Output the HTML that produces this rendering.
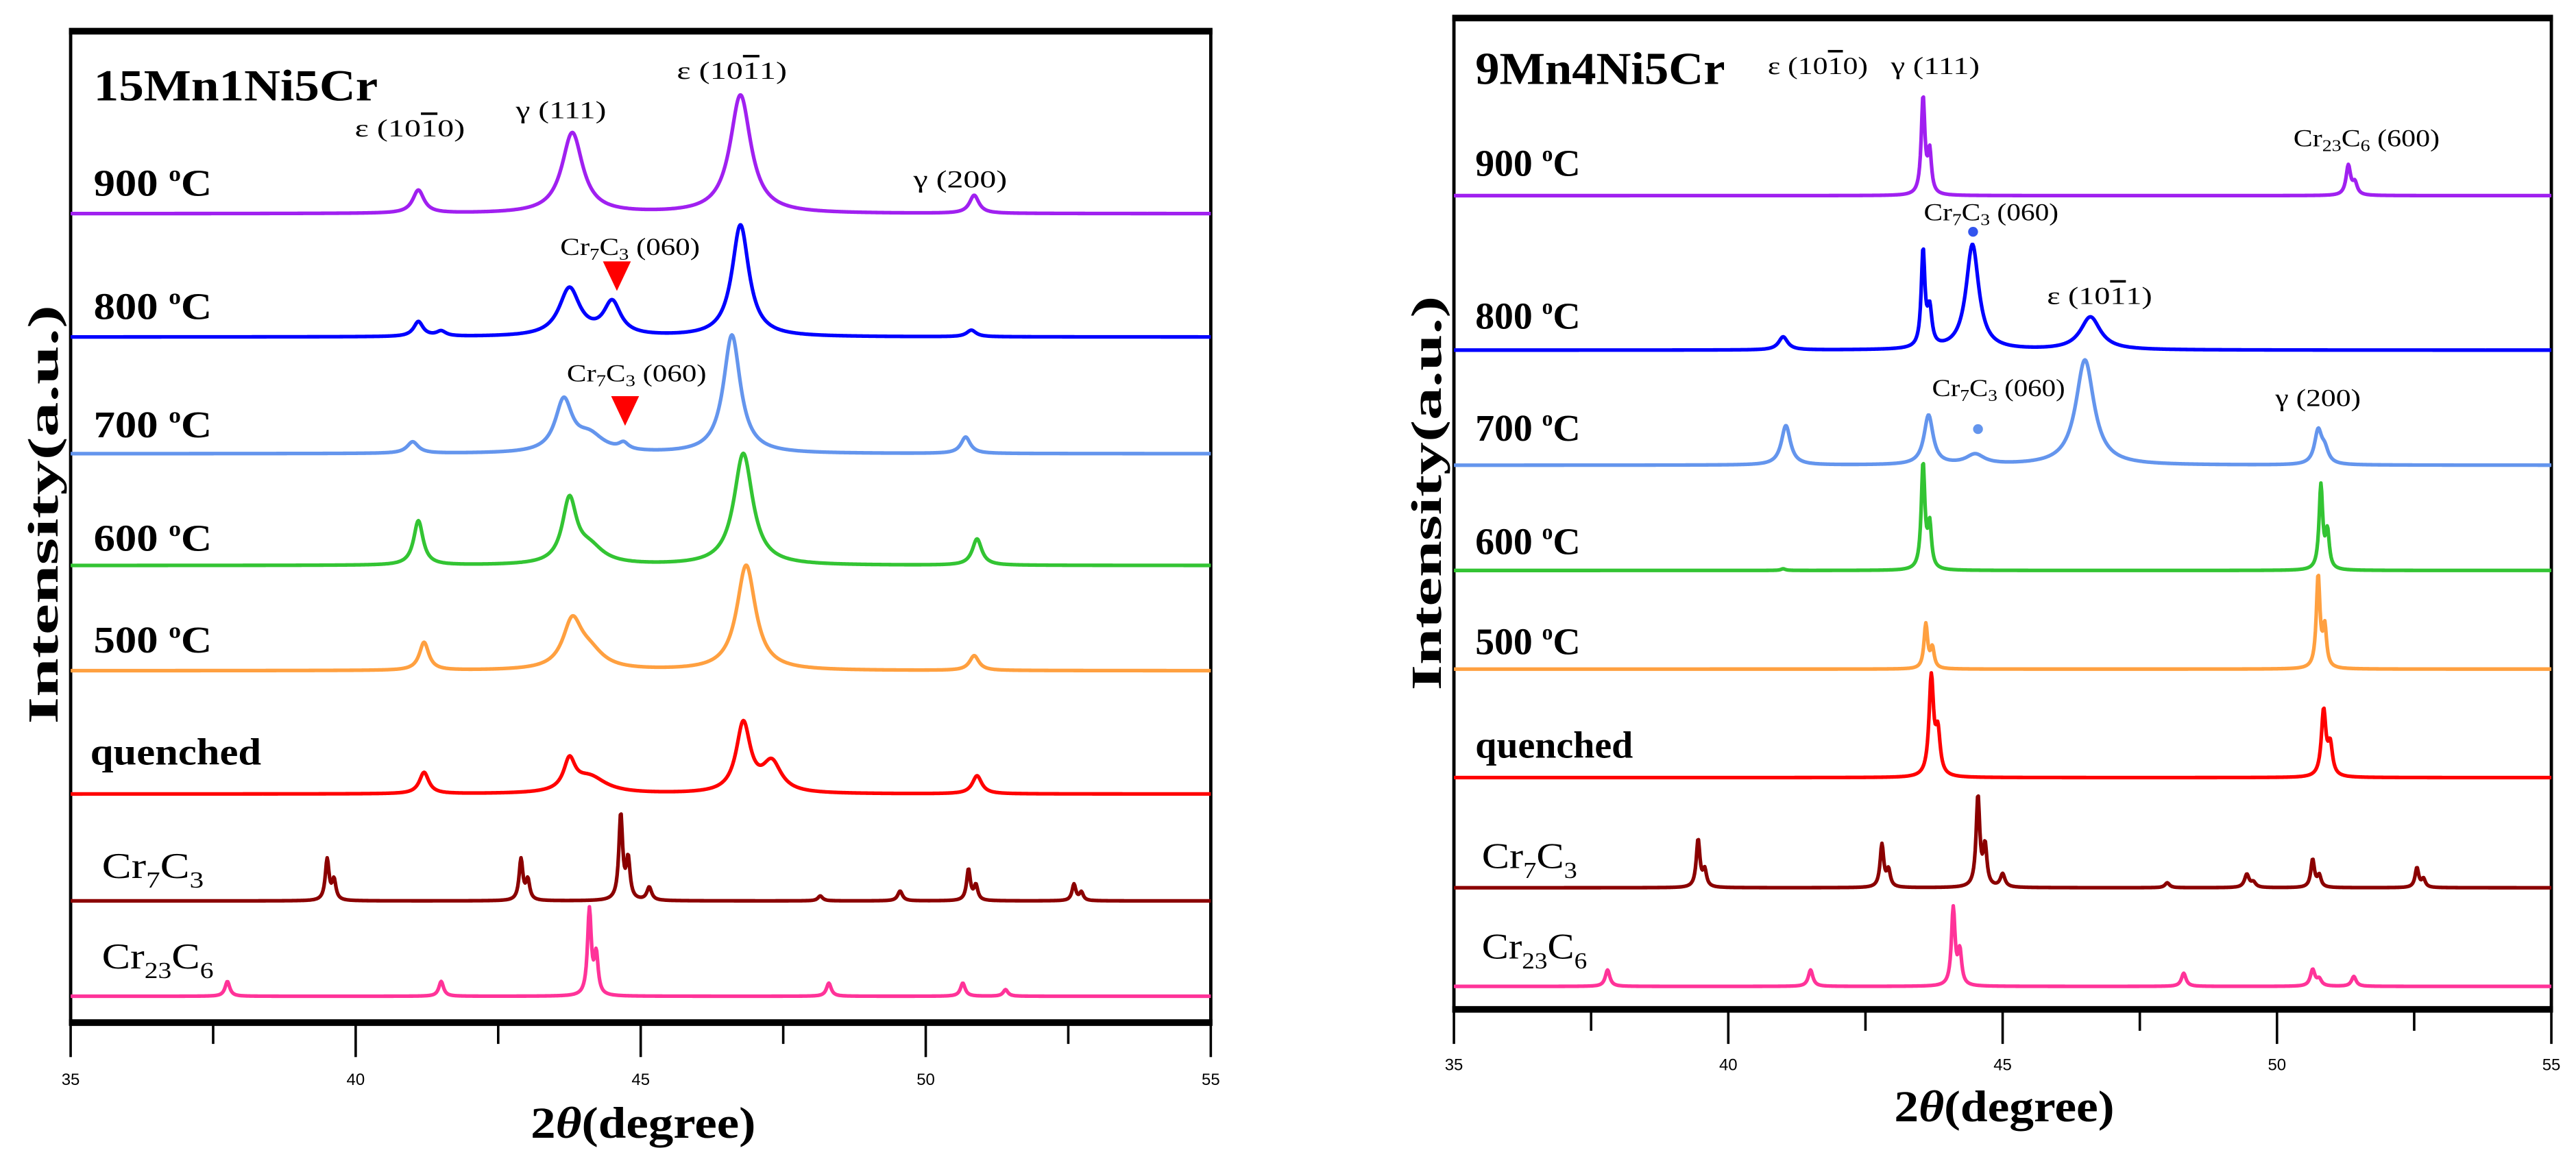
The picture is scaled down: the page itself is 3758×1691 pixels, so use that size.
<!DOCTYPE html>
<html><head><meta charset="utf-8"><style>
html,body{margin:0;padding:0;background:#fff;}
svg{display:block;}
text{font-family:"Liberation Serif",serif;fill:#000;}
.lbl{font-weight:bold;font-size:23px;}
.pk{font-size:15px;}
.tk{font-family:"Liberation Sans",sans-serif;font-size:10px;}
</style></head><body>
<svg id="fig" width="3758" height="1691" viewBox="0 0 1568 705" preserveAspectRatio="none" xmlns="http://www.w3.org/2000/svg">
<g id="left"></g>
<g id="right"></g>
</svg>
<script>
// ---- data: peak positions (2θ), heights (a.u.), half widths (deg) ----
const seriesNames = ["900 °C","800 °C","700 °C","600 °C","500 °C","quenched","Cr7C3","Cr23C6"];
const seriesColors = ["#a020f0","#0000ff","#6495ed","#33c433","#ffa040","#ff0000","#8b0000","#ff3399"];
const xTicks = [35,40,45,50,55];
const xMinor = [37.5,42.5,47.5,52.5];

// left panel (15Mn1Ni5Cr)
const L900pos=[41.1,43.8,46.75,50.85], L900h=[14,49,72,11], L900w=[0.12,0.22,0.22,0.1];
const L800pos=[41.1,41.5,43.75,44.5,46.75,50.8], L800h=[9,3,29,20,68,4], L800w=[0.1,0.1,0.22,0.18,0.18,0.1];
const L700pos=[41.0,43.65,44.1,44.7,46.6,50.7], L700h=[7,31,10,4,72,10], L700w=[0.12,0.18,0.3,0.1,0.18,0.1];
const L600pos=[41.1,43.75,44.1,46.8,50.9], L600h=[27,38,10,68,16], L600w=[0.1,0.15,0.3,0.2,0.1];
const L500pos=[41.2,43.8,44.1,46.85,50.85], L500h=[17,28,10,64,9], L500w=[0.1,0.2,0.3,0.2,0.1];
const LQpos=[41.2,43.75,44.1,46.8,47.3,50.9], LQh=[13,18,10,42,18,11], LQw=[0.1,0.12,0.35,0.15,0.2,0.1];
const LC7pos=[39.5,39.62,42.9,43.02,44.65,44.78,45.15,48.15,49.55,50.75,50.88,52.6,52.73], LC7h=[25,12,25,12,52,24,8,3,6,19,9,10,5], LC7w=[0.04,0.04,0.04,0.04,0.04,0.04,0.05,0.05,0.05,0.04,0.04,0.04,0.04];
const LC23pos=[37.75,41.5,44.1,44.22,48.3,50.65,51.4], LC23h=[9,9,52,24,8,8,4], LC23w=[0.05,0.05,0.04,0.04,0.05,0.05,0.05];

// right panel (9Mn4Ni5Cr)
const R900pos=[43.55,43.67,51.3,51.42], R900h=[59,25,18,7], R900w=[0.04,0.04,0.05,0.05];
const R800pos=[41.0,43.55,43.67,44.45,46.6], R800h=[8,58,22,64,20], R800w=[0.1,0.04,0.05,0.14,0.22];
const R700pos=[41.05,43.65,44.5,46.5,50.75,50.87], R700h=[24,30,6,64,20,8], R700w=[0.1,0.1,0.2,0.2,0.08,0.08];
const R600pos=[41.0,43.55,43.67,50.8,50.92], R600h=[1,64,26,51,22], R600w=[0.05,0.04,0.04,0.04,0.04];
const R500pos=[43.6,43.72,50.75,50.87], R500h=[27,12,56,24], R500w=[0.04,0.04,0.04,0.04];
const RQpos=[43.7,43.82,50.85,50.97], RQh=[60,25,40,18], RQw=[0.05,0.05,0.05,0.05];
const RC7pos=[39.45,39.57,42.8,42.92,44.55,44.68,45.0,48.0,49.45,49.57,50.65,50.77,52.55,52.67], RC7h=[29,10,26,10,55,24,8,3,8,3,17,7,12,5], RC7w=[0.04,0.04,0.04,0.04,0.04,0.04,0.05,0.05,0.05,0.05,0.04,0.04,0.04,0.04];
const RC23pos=[37.8,41.5,44.1,44.22,48.3,50.65,50.77,51.4], RC23h=[10,10,47,20,8,10,4,6], RC23w=[0.05,0.05,0.04,0.04,0.05,0.05,0.05,0.05];

const leftSeries=[[L900pos,L900h,L900w],[L800pos,L800h,L800w],[L700pos,L700h,L700w],[L600pos,L600h,L600w],[L500pos,L500h,L500w],[LQpos,LQh,LQw],[LC7pos,LC7h,LC7w],[LC23pos,LC23h,LC23w]];
const rightSeries=[[R900pos,R900h,R900w],[R800pos,R800h,R800w],[R700pos,R700h,R700w],[R600pos,R600h,R600w],[R500pos,R500h,R500w],[RQpos,RQh,RQw],[RC7pos,RC7h,RC7w],[RC23pos,RC23h,RC23w]];

const NS="http://www.w3.org/2000/svg";
function mk(tag,attrs,parent){const e=document.createElementNS(NS,tag);for(const k in attrs)e.setAttribute(k,attrs[k]);parent.appendChild(e);return e;}

function drawPanel(g,cfg,series){
  const xS=v=>cfg.x0+(v-35)/(55-35)*(cfg.x1-cfg.x0);
  let r=mk('rect',{x:cfg.x0,y:cfg.top,width:cfg.x1-cfg.x0,height:cfg.bot-cfg.top,fill:'none',stroke:'#000','stroke-width':2},g);
  
  
  let t=mk('line',{x1:cfg.x0-1,x2:cfg.x1+1,y1:cfg.top+1,y2:cfg.top+1,stroke:'#000','stroke-width':4},g);
  
  
  let b=mk('line',{x1:cfg.x0-1,x2:cfg.x1+1,y1:cfg.bot-1,y2:cfg.bot-1,stroke:'#000','stroke-width':4},g);
  
  
  xTicks.forEach(v=>{
    const l=mk('line',{x1:xS(v),x2:xS(v),y1:cfg.bot,y2:cfg.bot+20,stroke:'#000','stroke-width':1.5},g);
    
    
    const tx=mk('text',{x:xS(v),y:cfg.tickY,'text-anchor':'middle',class:'tk'},g);
    tx.textContent=v;
    
    
  });
  xMinor.forEach(v=>{
    const l=mk('line',{x1:xS(v),x2:xS(v),y1:cfg.bot,y2:cfg.bot+12,stroke:'#000','stroke-width':1.5},g);
    
    
  });
  series.forEach((s,i)=>{
    const [pos,h,w]=s; const base=cfg.bases[i];
    const yS=v=>base-v;
    let d='';
    for(let k=0;k<=1400;k++){
      const x=35+20*k/1400; let y=0;
      for(let j=0;j<pos.length;j++){const u=(x-pos[j])/w[j]; y+=h[j]/(1+u*u);}
      d+=(k?'L':'M')+xS(x).toFixed(2)+' '+yS(y).toFixed(2);
    }
    const p=mk('path',{d:d,fill:'none',stroke:seriesColors[i],'stroke-width':2.2,'stroke-linejoin':'round'},g);
    
    
  });
}

drawPanel(document.getElementById('left'),{x0:43,x1:737,top:18,bot:623,tickY:660,bases:[130,205,276,344,408,483,548,606]},leftSeries);
drawPanel(document.getElementById('right'),{x0:885,x1:1553,top:10,bot:615,tickY:651,bases:[119,213,283,347,407,473,540,600]},rightSeries);
</script>
<svg style="position:absolute;left:0;top:0" width="3758" height="1691" viewBox="0 0 1568 705" preserveAspectRatio="none" xmlns="http://www.w3.org/2000/svg">
<g font-family="Liberation Serif, serif">
<text x="57" y="61" font-size="27" font-weight="bold" textLength="173" lengthAdjust="spacingAndGlyphs">15Mn1Ni5Cr</text>
<text x="57" y="119" class="lbl" textLength="72" lengthAdjust="spacingAndGlyphs">900 <tspan font-size="13" dy="-9">o</tspan><tspan dy="9">C</tspan></text>
<text x="57" y="194" class="lbl" textLength="72" lengthAdjust="spacingAndGlyphs">800 <tspan font-size="13" dy="-9">o</tspan><tspan dy="9">C</tspan></text>
<text x="57" y="266" class="lbl" textLength="72" lengthAdjust="spacingAndGlyphs">700 <tspan font-size="13" dy="-9">o</tspan><tspan dy="9">C</tspan></text>
<text x="57" y="335" class="lbl" textLength="72" lengthAdjust="spacingAndGlyphs">600 <tspan font-size="13" dy="-9">o</tspan><tspan dy="9">C</tspan></text>
<text x="57" y="397" class="lbl" textLength="72" lengthAdjust="spacingAndGlyphs">500 <tspan font-size="13" dy="-9">o</tspan><tspan dy="9">C</tspan></text>
<text x="55" y="465" class="lbl" textLength="104" lengthAdjust="spacingAndGlyphs">quenched</text>
<text x="62" y="534" font-size="22" textLength="62" lengthAdjust="spacingAndGlyphs">Cr<tspan font-size="14" dy="6">7</tspan><tspan dy="-6">C</tspan><tspan font-size="14" dy="6">3</tspan></text>
<text x="62" y="589" font-size="22" textLength="68" lengthAdjust="spacingAndGlyphs">Cr<tspan font-size="14" dy="6">23</tspan><tspan dy="-6">C</tspan><tspan font-size="14" dy="6">6</tspan></text>
<text x="216" y="83" class="pk" textLength="67" lengthAdjust="spacingAndGlyphs">ε (10<tspan text-decoration="overline">1</tspan>0)</text>
<text x="314" y="72" class="pk" textLength="55" lengthAdjust="spacingAndGlyphs">γ (111)</text>
<text x="412" y="48" class="pk" textLength="67" lengthAdjust="spacingAndGlyphs">ε (10<tspan text-decoration="overline">1</tspan>1)</text>
<text x="556" y="114" class="pk" textLength="57" lengthAdjust="spacingAndGlyphs">γ (200)</text>
<text x="341" y="155" class="pk" textLength="85" lengthAdjust="spacingAndGlyphs">Cr<tspan font-size="10" dy="3">7</tspan><tspan dy="-3">C</tspan><tspan font-size="10" dy="3">3</tspan><tspan dy="-3"> (060)</tspan></text>
<polygon points="367,159 384,159 375.5,177" fill="#ff0000"/>
<text x="345" y="232" class="pk" textLength="85" lengthAdjust="spacingAndGlyphs">Cr<tspan font-size="10" dy="3">7</tspan><tspan dy="-3">C</tspan><tspan font-size="10" dy="3">3</tspan><tspan dy="-3"> (060)</tspan></text>
<polygon points="372,241 389,241 380.5,259" fill="#ff0000"/>
<text transform="translate(35,313) rotate(-90)" text-anchor="middle" font-size="26" font-weight="bold" textLength="255" lengthAdjust="spacingAndGlyphs">Intensity(a.u.)</text>
<text x="323" y="692" font-size="27" font-weight="bold" textLength="137" lengthAdjust="spacingAndGlyphs">2<tspan font-style="italic">θ</tspan>(degree)</text>

<text x="898" y="51" font-size="28" font-weight="bold" textLength="152" lengthAdjust="spacingAndGlyphs">9Mn4Ni5Cr</text>
<text x="898" y="107" class="lbl" textLength="64" lengthAdjust="spacingAndGlyphs">900 <tspan font-size="13" dy="-9">o</tspan><tspan dy="9">C</tspan></text>
<text x="898" y="200" class="lbl" textLength="64" lengthAdjust="spacingAndGlyphs">800 <tspan font-size="13" dy="-9">o</tspan><tspan dy="9">C</tspan></text>
<text x="898" y="268" class="lbl" textLength="64" lengthAdjust="spacingAndGlyphs">700 <tspan font-size="13" dy="-9">o</tspan><tspan dy="9">C</tspan></text>
<text x="898" y="337" class="lbl" textLength="64" lengthAdjust="spacingAndGlyphs">600 <tspan font-size="13" dy="-9">o</tspan><tspan dy="9">C</tspan></text>
<text x="898" y="398" class="lbl" textLength="64" lengthAdjust="spacingAndGlyphs">500 <tspan font-size="13" dy="-9">o</tspan><tspan dy="9">C</tspan></text>
<text x="898" y="461" class="lbl" textLength="96" lengthAdjust="spacingAndGlyphs">quenched</text>
<text x="902" y="528" font-size="22" textLength="58" lengthAdjust="spacingAndGlyphs">Cr<tspan font-size="14" dy="6">7</tspan><tspan dy="-6">C</tspan><tspan font-size="14" dy="6">3</tspan></text>
<text x="902" y="583" font-size="22" textLength="64" lengthAdjust="spacingAndGlyphs">Cr<tspan font-size="14" dy="6">23</tspan><tspan dy="-6">C</tspan><tspan font-size="14" dy="6">6</tspan></text>
<text x="1076" y="45" class="pk" textLength="61" lengthAdjust="spacingAndGlyphs">ε (10<tspan text-decoration="overline">1</tspan>0)</text>
<text x="1151" y="45" class="pk" textLength="54" lengthAdjust="spacingAndGlyphs">γ (111)</text>
<text x="1396" y="89" class="pk" textLength="89" lengthAdjust="spacingAndGlyphs">Cr<tspan font-size="10" dy="3">23</tspan><tspan dy="-3">C</tspan><tspan font-size="10" dy="3">6</tspan><tspan dy="-3"> (600)</tspan></text>
<text x="1171" y="134" class="pk" textLength="82" lengthAdjust="spacingAndGlyphs">Cr<tspan font-size="10" dy="3">7</tspan><tspan dy="-3">C</tspan><tspan font-size="10" dy="3">3</tspan><tspan dy="-3"> (060)</tspan></text>
<circle cx="1201" cy="141" r="3" fill="#3355ee"/>
<text x="1246" y="185" class="pk" textLength="64" lengthAdjust="spacingAndGlyphs">ε (10<tspan text-decoration="overline">1</tspan>1)</text>
<text x="1176" y="241" class="pk" textLength="81" lengthAdjust="spacingAndGlyphs">Cr<tspan font-size="10" dy="3">7</tspan><tspan dy="-3">C</tspan><tspan font-size="10" dy="3">3</tspan><tspan dy="-3"> (060)</tspan></text>
<circle cx="1204" cy="261" r="3" fill="#6495ed"/>
<text x="1385" y="247" class="pk" textLength="52" lengthAdjust="spacingAndGlyphs">γ (200)</text>
<text transform="translate(877,300) rotate(-90)" text-anchor="middle" font-size="26" font-weight="bold" textLength="240" lengthAdjust="spacingAndGlyphs">Intensity(a.u.)</text>
<text x="1153" y="682" font-size="27" font-weight="bold" textLength="134" lengthAdjust="spacingAndGlyphs">2<tspan font-style="italic">θ</tspan>(degree)</text>
</g>
</svg>
</body></html>
